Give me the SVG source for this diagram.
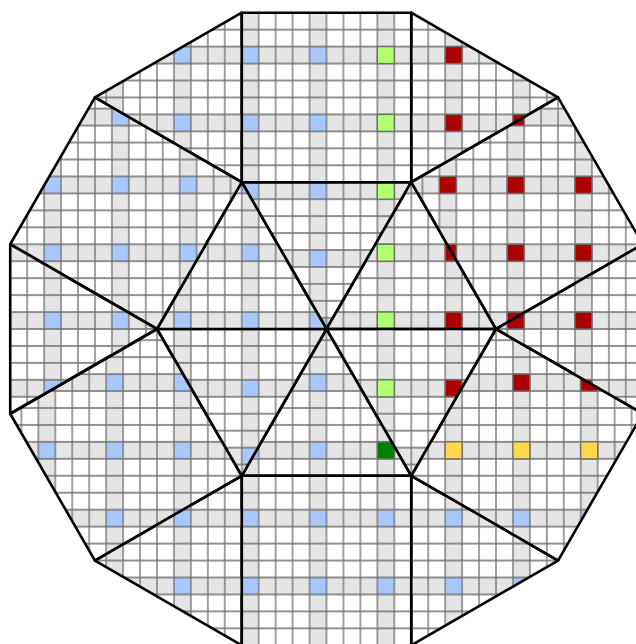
<svg xmlns="http://www.w3.org/2000/svg" width="636" height="644" viewBox="0 0 636 644">
<style>
.g{fill:#e5e5e5}
.b{fill:#a8c8fb}
.ln{fill:none;stroke:#6e6e6e;stroke-width:1.3}
.cell{stroke:#6e6e6e;stroke-width:1.3}
.lg{fill:#b0ff70}
.dg{fill:#008000}
.rd{fill:#aa0000}
.yl{fill:#ffd84d}
.edge{fill:none;stroke:#000;stroke-width:2.6;stroke-linejoin:round}
</style>
<defs>
<g id="pc">
<rect class="g" width="16.95" height="67.8"/>
<rect class="g" width="67.8" height="16.95"/>
<rect class="b" width="16.95" height="16.95"/>
<path class="ln" d="M0 0V67.8M16.95 0V67.8M33.9 0V67.8M50.85 0V67.8M67.8 0V67.8M0 0H67.8M0 16.95H67.8M0 33.9H67.8M0 50.85H67.8M0 67.8H67.8"/>
</g>
<pattern id="pA" patternUnits="userSpaceOnUse" x="377.35" y="385.61" width="67.8" height="67.8"><use href="#pc"/></pattern>
<pattern id="pB" patternUnits="userSpaceOnUse" x="377.35" y="379.85" width="67.8" height="67.8"><use href="#pc"/></pattern>
<pattern id="pC" patternUnits="userSpaceOnUse" x="377.35" y="374.09" width="67.8" height="67.8"><use href="#pc"/></pattern>
<pattern id="pD" patternUnits="userSpaceOnUse" x="371.59" y="379.85" width="67.8" height="67.8"><use href="#pc"/></pattern>
<pattern id="pE" patternUnits="userSpaceOnUse" x="383.11" y="379.85" width="67.8" height="67.8"><use href="#pc"/></pattern>

<clipPath id="cTup"><polygon points="411.25,182.21 241.75,182.21 326.5,329"/></clipPath>
<clipPath id="cTur"><polygon points="326.5,329 496,329 411.25,182.21"/></clipPath>
<clipPath id="cTlr"><polygon points="326.5,329 411.25,475.79 496,329"/></clipPath>
<clipPath id="cTdn"><polygon points="326.5,329 241.75,475.79 411.25,475.79"/></clipPath>
<clipPath id="cTll"><polygon points="326.5,329 157,329 241.75,475.79"/></clipPath>
<clipPath id="cTul"><polygon points="326.5,329 241.75,182.21 157,329"/></clipPath>
<clipPath id="cStop"><polygon points="241.75,182.21 411.25,182.21 411.25,12.71 241.75,12.71"/></clipPath>
<clipPath id="cSur"><polygon points="411.25,182.21 496,329 642.79,244.25 558.04,97.46"/></clipPath>
<clipPath id="cSlr"><polygon points="496,329 411.25,475.79 558.04,560.54 642.79,413.75"/></clipPath>
<clipPath id="cSbot"><polygon points="411.25,475.79 241.75,475.79 241.75,645.29 411.25,645.29"/></clipPath>
<clipPath id="cSll"><polygon points="241.75,475.79 157,329 10.21,413.75 94.96,560.54"/></clipPath>
<clipPath id="cSul"><polygon points="157,329 241.75,182.21 94.96,97.46 10.21,244.25"/></clipPath>
<clipPath id="cOtr"><polygon points="411.25,182.21 558.04,97.46 411.25,12.71"/></clipPath>
<clipPath id="cOr"><polygon points="496,329 642.79,244.25 642.79,413.75"/></clipPath>
<clipPath id="cObr"><polygon points="411.25,475.79 558.04,560.54 411.25,645.29"/></clipPath>
<clipPath id="cObl"><polygon points="241.75,475.79 241.75,645.29 94.96,560.54"/></clipPath>
<clipPath id="cOl"><polygon points="157,329 10.21,244.25 10.21,413.75"/></clipPath>
<clipPath id="cOtl"><polygon points="241.75,182.21 241.75,12.71 94.96,97.46"/></clipPath>

<g id="latA">
<rect width="636" height="644" fill="url(#pA)"/>
<rect class="cell lg" x="377.35" y="46.61" width="16.95" height="16.95"/>
<rect class="cell lg" x="377.35" y="114.41" width="16.95" height="16.95"/>
<rect class="cell lg" x="377.35" y="182.21" width="16.95" height="16.95"/>
<rect class="cell rd" x="445.15" y="46.61" width="16.95" height="16.95"/>
<rect class="cell rd" x="445.15" y="114.41" width="16.95" height="16.95"/>
<rect class="cell rd" x="512.95" y="46.61" width="16.95" height="16.95"/>
<rect class="cell rd" x="512.95" y="114.41" width="16.95" height="16.95"/>
</g>
<g id="latB">
<rect width="636" height="644" fill="url(#pB)"/>
<rect class="cell lg" x="377.35" y="244.25" width="16.95" height="16.95"/>
<rect class="cell lg" x="377.35" y="312.05" width="16.95" height="16.95"/>
<rect class="cell lg" x="377.35" y="379.85" width="16.95" height="16.95"/>
<rect class="cell rd" x="445.15" y="244.25" width="16.95" height="16.95"/>
<rect class="cell rd" x="445.15" y="312.05" width="16.95" height="16.95"/>
<rect class="cell rd" x="445.15" y="379.85" width="16.95" height="16.95"/>
</g>
<g id="latC">
<rect width="636" height="644" fill="url(#pC)"/>
<rect class="cell dg" x="377.35" y="441.89" width="16.95" height="16.95"/>
<rect class="cell rd" x="445.15" y="374.09" width="16.95" height="16.95"/>
<rect class="cell rd" x="512.95" y="374.09" width="16.95" height="16.95"/>
<rect class="cell rd" x="580.75" y="374.09" width="16.95" height="16.95"/>
<rect class="cell yl" x="445.15" y="441.89" width="16.95" height="16.95"/>
<rect class="cell yl" x="512.95" y="441.89" width="16.95" height="16.95"/>
<rect class="cell yl" x="580.75" y="441.89" width="16.95" height="16.95"/>
</g>
<g id="latD">
<rect width="636" height="644" fill="url(#pD)"/>
<rect class="cell rd" x="439.39" y="108.65" width="16.95" height="16.95"/>
<rect class="cell rd" x="439.39" y="176.45" width="16.95" height="16.95"/>
<rect class="cell rd" x="439.39" y="244.25" width="16.95" height="16.95"/>
<rect class="cell rd" x="439.39" y="312.05" width="16.95" height="16.95"/>
<rect class="cell rd" x="439.39" y="379.85" width="16.95" height="16.95"/>
<rect class="cell rd" x="507.19" y="108.65" width="16.95" height="16.95"/>
<rect class="cell rd" x="507.19" y="176.45" width="16.95" height="16.95"/>
<rect class="cell rd" x="507.19" y="244.25" width="16.95" height="16.95"/>
<rect class="cell rd" x="507.19" y="312.05" width="16.95" height="16.95"/>
<rect class="cell rd" x="507.19" y="379.85" width="16.95" height="16.95"/>
<rect class="cell rd" x="574.99" y="108.65" width="16.95" height="16.95"/>
<rect class="cell rd" x="574.99" y="176.45" width="16.95" height="16.95"/>
<rect class="cell rd" x="574.99" y="244.25" width="16.95" height="16.95"/>
<rect class="cell rd" x="574.99" y="312.05" width="16.95" height="16.95"/>
<rect class="cell rd" x="574.99" y="379.85" width="16.95" height="16.95"/>
</g>
<g id="latE">
<rect width="636" height="644" fill="url(#pE)"/>
</g>
</defs>

<rect width="636" height="644" fill="#fff"/>

<g id="tiles">
<g id="tri-inner-top"><use href="#latA" clip-path="url(#cTup)"/><polygon class="edge" points="411.25,182.21 241.75,182.21 326.5,329"/></g>
<g id="tri-inner-upper-right"><use href="#latB" clip-path="url(#cTur)"/><polygon class="edge" points="326.5,329 496,329 411.25,182.21"/></g>
<g id="tri-inner-lower-right"><use href="#latB" clip-path="url(#cTlr)"/><polygon class="edge" points="326.5,329 411.25,475.79 496,329"/></g>
<g id="tri-inner-bottom"><use href="#latC" clip-path="url(#cTdn)"/><polygon class="edge" points="326.5,329 241.75,475.79 411.25,475.79"/></g>
<g id="tri-inner-lower-left"><use href="#latB" clip-path="url(#cTll)"/><polygon class="edge" points="326.5,329 157,329 241.75,475.79"/></g>
<g id="tri-inner-upper-left"><use href="#latB" clip-path="url(#cTul)"/><polygon class="edge" points="326.5,329 241.75,182.21 157,329"/></g>
<g id="square-top"><use href="#latA" clip-path="url(#cStop)"/><polygon class="edge" points="241.75,182.21 411.25,182.21 411.25,12.71 241.75,12.71"/></g>
<g id="square-upper-right"><use href="#latD" clip-path="url(#cSur)"/><polygon class="edge" points="411.25,182.21 496,329 642.79,244.25 558.04,97.46"/></g>
<g id="square-lower-right"><use href="#latC" clip-path="url(#cSlr)"/><polygon class="edge" points="496,329 411.25,475.79 558.04,560.54 642.79,413.75"/></g>
<g id="square-bottom"><use href="#latC" clip-path="url(#cSbot)"/><polygon class="edge" points="411.25,475.79 241.75,475.79 241.75,645.29 411.25,645.29"/></g>
<g id="square-lower-left"><use href="#latC" clip-path="url(#cSll)"/><polygon class="edge" points="241.75,475.79 157,329 10.21,413.75 94.96,560.54"/></g>
<g id="square-upper-left"><use href="#latE" clip-path="url(#cSul)"/><polygon class="edge" points="157,329 241.75,182.21 94.96,97.46 10.21,244.25"/></g>
<g id="tri-outer-top-right"><use href="#latA" clip-path="url(#cOtr)"/><polygon class="edge" points="411.25,182.21 558.04,97.46 411.25,12.71"/></g>
<g id="tri-outer-right"><use href="#latD" clip-path="url(#cOr)"/><polygon class="edge" points="496,329 642.79,244.25 642.79,413.75"/></g>
<g id="tri-outer-bottom-right"><use href="#latC" clip-path="url(#cObr)"/><polygon class="edge" points="411.25,475.79 558.04,560.54 411.25,645.29"/></g>
<g id="tri-outer-bottom-left"><use href="#latC" clip-path="url(#cObl)"/><polygon class="edge" points="241.75,475.79 241.75,645.29 94.96,560.54"/></g>
<g id="tri-outer-left"><use href="#latE" clip-path="url(#cOl)"/><polygon class="edge" points="157,329 10.21,244.25 10.21,413.75"/></g>
<g id="tri-outer-top-left"><use href="#latA" clip-path="url(#cOtl)"/><polygon class="edge" points="241.75,182.21 241.75,12.71 94.96,97.46"/></g>
</g>
<g id="connectors"></g>
</svg>
